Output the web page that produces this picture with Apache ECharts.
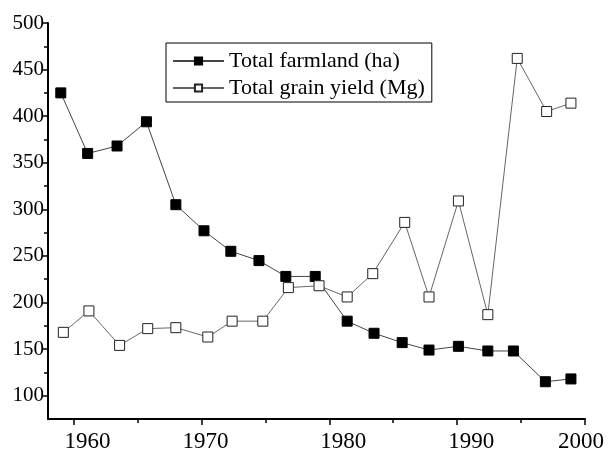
<!DOCTYPE html>
<html lang="en">
<head>
    <meta charset="UTF-8">
    <title>Farmland and grain yield</title>
    <script src="https://cdn.jsdelivr.net/npm/echarts@6/dist/echarts.min.js"></script>
    <style>
        body { margin: 0; background: #fff; }
        #chart { width: 609px; height: 453px; }
    </style>
</head>
<body>
    <div id="chart"></div>
    <script>
        // values
        const farmYears = [1959.0, 1961.1, 1963.4, 1965.7, 1968.0, 1970.2, 1972.3, 1974.5, 1976.6, 1978.9,
                           1981.4, 1983.5, 1985.7, 1987.8, 1990.1, 1992.4, 1994.4, 1996.9, 1998.9];
        const farmland = [425, 360, 368, 394, 305, 277, 255, 245, 228, 228,
                          180, 167, 157, 149, 153, 148, 148, 115, 118];
        const grainYears = [1959.2, 1961.2, 1963.6, 1965.8, 1968.0, 1970.5, 1972.4, 1974.8, 1976.8, 1979.2,
                            1981.4, 1983.4, 1985.9, 1987.8, 1990.1, 1992.4, 1994.7, 1997.0, 1998.9];
        const grainYield = [168, 191, 154, 172, 173, 163, 180, 180, 216, 218,
                            206, 231, 286, 206, 309, 187, 462, 405, 414];
        const xTickLabels = [1960, 1970, 1980, 1990, 2000];
        const xMinorTicks = [1965, 1975, 1985, 1995];
        const yTickLabels = [100, 150, 200, 250, 300, 350, 400, 450, 500];
        const yMinorTicks = [125, 175, 225, 275, 325, 375, 425, 475];

        const FONT = "'Liberation Serif', 'Times New Roman', serif";
        // the reference puts some year labels a bit off their ticks
        const xLabelStyle = { 1960: 'r', 1970: 's', 1980: 'r', 1990: 'r', 2000: 'l' };

        const chart = echarts.init(document.getElementById('chart'));

        const axisLine = { show: true, lineStyle: { color: '#000', width: 2 } };
        const xFont = { fontFamily: FONT, fontSize: 23, color: '#000' };

        chart.setOption({
            animation: false,
            grid: { left: 48, right: 24, top: 23, bottom: 34 },
            legend: {
                orient: 'vertical',
                left: 166,
                top: 43,
                padding: [7, 7, 3, 6],
                itemGap: 5,
                itemWidth: 51,
                itemHeight: 9,
                borderColor: '#000',
                borderWidth: 1,
                borderRadius: 0,
                textStyle: { fontFamily: FONT, fontSize: 22, color: '#000' },
                data: ['Total farmland (ha)', 'Total grain yield (Mg)']
            },
            xAxis: [{
                type: 'value',
                min: 1958,
                max: 2000,
                axisLine: axisLine,
                splitLine: { show: false },
                axisTick: { show: true, length: 6, lineStyle: { color: '#000', width: 1.5 }, customValues: xTickLabels },
                axisLabel: {
                    customValues: xTickLabels,
                    margin: 11,
                    color: '#000',
                    fontFamily: FONT,
                    fontSize: 23,
                    formatter: v => '{' + (xLabelStyle[v] || 'n') + '|' + v + '}',
                    rich: {
                        n: xFont,
                        r: Object.assign({ padding: [0, 0, 0, 28] }, xFont),
                        s: Object.assign({ padding: [0, 0, 0, 8] }, xFont),
                        l: Object.assign({ padding: [0, 8, 0, 0] }, xFont)
                    }
                }
            }, {
                type: 'value',
                min: 1958,
                max: 2000,
                position: 'bottom',
                axisLine: { show: false },
                splitLine: { show: false },
                axisTick: { show: true, length: 4, lineStyle: { color: '#000', width: 1.5 }, customValues: xMinorTicks },
                axisLabel: { show: false }
            }],
            yAxis: [{
                type: 'value',
                min: 75,
                max: 500,
                axisLine: axisLine,
                splitLine: { show: false },
                axisTick: { show: true, length: 5, lineStyle: { color: '#000', width: 1.5 }, customValues: yTickLabels },
                axisLabel: {
                    customValues: yTickLabels,
                    margin: 4,
                    color: '#000',
                    fontFamily: FONT,
                    fontSize: 21
                }
            }, {
                type: 'value',
                min: 75,
                max: 500,
                position: 'left',
                axisLine: { show: false },
                splitLine: { show: false },
                axisTick: { show: true, length: 4, lineStyle: { color: '#000', width: 1.5 }, customValues: yMinorTicks },
                axisLabel: { show: false }
            }],
            series: [{
                name: 'Total farmland (ha)',
                type: 'line',
                data: farmYears.map((y, i) => [y, farmland[i]]),
                symbol: 'rect',
                symbolSize: 10,
                lineStyle: { color: '#444', width: 1 },
                itemStyle: { color: '#000', borderColor: '#000', borderWidth: 1 }
            }, {
                name: 'Total grain yield (Mg)',
                type: 'line',
                data: grainYears.map((y, i) => [y, grainYield[i]]),
                symbol: 'rect',
                symbolSize: 10,
                lineStyle: { color: '#666', width: 1 },
                itemStyle: { color: '#fff', borderColor: '#222', borderWidth: 1 }
            }]
        });
    </script>
</body>
</html>
